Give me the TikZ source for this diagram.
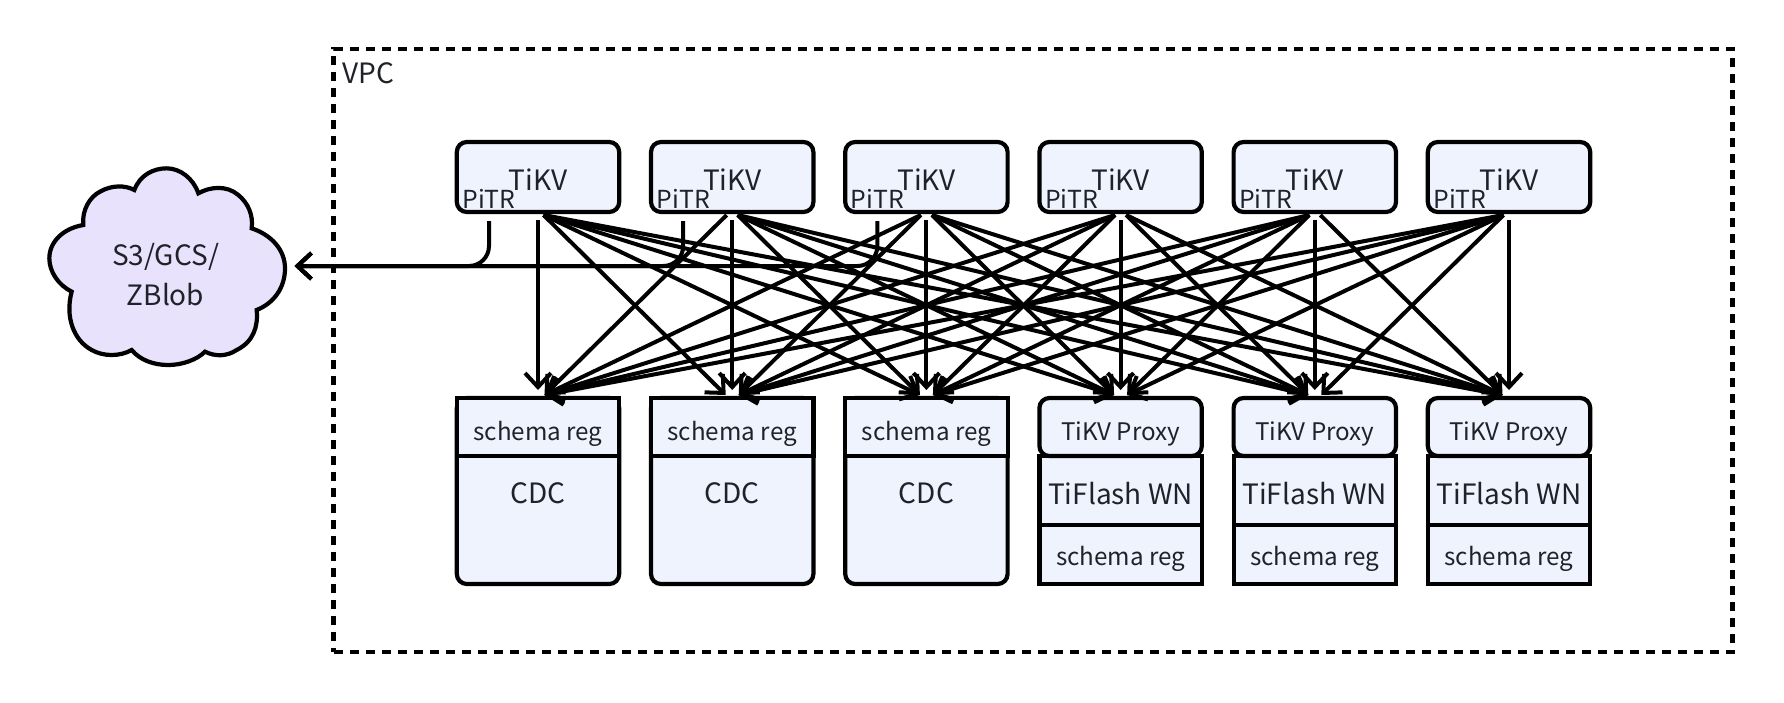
\documentclass[tikz,border=0pt]{standalone}
\usepackage{fontspec}
\setmainfont{Noto Sans CJK SC}
\usetikzlibrary{arrows.meta}

\definecolor{boxfill}{HTML}{EFF3FD}
\definecolor{cloudfill}{HTML}{E9E2FD}
\definecolor{ink}{HTML}{1F2329}

\tikzset{
  big/.style={font=\fontsize{14}{17}\selectfont},
  small/.style={font=\fontsize{12.1}{15}\selectfont},
  box/.style={draw, fill=boxfill, line width=2.1pt, minimum width=81.2pt, inner sep=0pt, outer sep=0pt, text=ink},
  arrow/.style={line width=2pt, -{Straight Barb[length=7pt,width=13pt]}},
}

\begin{document}
\begin{tikzpicture}[x=0.5pt,y=-0.5pt]
   \useasboundingbox (0,0) rectangle (1784,702);

\node[draw, line width=2.3pt, dash pattern=on 4.5pt off 3.5pt, minimum width=699.5pt, minimum height=301.5pt, inner sep=0pt] (vpc) at (1033.2,350.5) {};
\node[big, text=ink, inner sep=0pt] (vpclabel) at (368.5,73) {VPC};

% cloud outline
\begin{scope}[shift={(40,160)},x=0.16667pt,y=-0.16667pt]
\draw[fill=cloudfill, line width=2.1pt] (283,90)
  .. controls (300,45) and (340,25) .. (380,25)
  .. controls (420,25) and (460,55) .. (475,100)
  .. controls (510,80) and (560,75) .. (595,105)
  .. controls (625,130) and (640,165) .. (635,205)
  .. controls (695,225) and (735,270) .. (735,325)
  .. controls (735,385) and (700,430) .. (650,450)
  .. controls (655,500) and (640,545) .. (590,570)
  .. controls (560,590) and (525,590) .. (495,575)
  .. controls (470,600) and (425,615) .. (385,615)
  .. controls (340,615) and (300,600) .. (275,570)
  .. controls (240,590) and (190,590) .. (155,570)
  .. controls (100,540) and (75,470) .. (95,395)
  .. controls (55,375) and (28,335) .. (28,295)
  .. controls (28,245) and (70,205) .. (130,195)
  .. controls (125,150) and (150,110) .. (180,95)
  .. controls (215,75) and (255,75) .. (283,90) -- cycle;
\end{scope}
\node[text=ink, minimum width=129pt, inner sep=0pt, outer sep=0pt, align=center, font=\fontsize{14}{20}\selectfont] (cloud) at (165.5,275) {S3/GCS/\\ZBlob};

% top row
\foreach \i/\x in {1/538,2/732.2,3/926.4,4/1120.6,5/1314.8,6/1509} {
  \node[box, big, rounded corners=5pt, minimum height=35pt, text height=13.4pt, text depth=0pt] (tikv\i) at (\x,177) {TiKV};
  \node[small, font=\fontsize{12.4}{15}\selectfont, text=ink, inner sep=0pt] (pitr\i) at (\x-49,199) {PiTR};
}

% bottom row, cdc
\foreach \i/\x in {1/538,2/732.2,3/926.4} {
  \node[box, rounded corners=5pt, minimum height=93pt] (cdc\i) at (\x,491) {};
  \node[big, text=ink, inner sep=0pt] (cdctext\i) at (\x,493) {CDC};
  \node[box, small, minimum height=29pt, text height=13pt, text depth=0pt] (head\i) at (\x,427) {schema reg};
}

% bottom row, tiflash
\foreach \i/\x in {4/1120.6,5/1314.8,6/1509} {
  \node[box, big, minimum height=34.5pt, text height=14pt, text depth=0pt] (flash\i) at (\x,490.5) {TiFlash WN};
  \node[box, small, minimum height=29.5pt, text height=10.8pt, text depth=0pt] (schema\i) at (\x,554.5) {schema reg};
  \node[box, small, rounded corners=5pt, minimum height=29pt, text height=13pt, text depth=0pt] (head\i) at (\x,427) {TiKV Proxy};
}

% every tikv to every head
\foreach \i in {1,...,6} {
  \foreach \j in {1,...,6} {
    \pgfmathsetmacro\dx{2.75*sign(\j-\i)}
    \pgfmathsetmacro\ex{3.25*sign(\j-\i)}
    \pgfmathsetmacro\gap{\i==\j ? 4 : 1.5}
    \draw[arrow] ([xshift=\dx pt,yshift=-\gap pt]tikv\i.south) -- ([xshift=-\ex pt,yshift=\gap pt]head\j.north);
  }
}

% backup to the cloud
\foreach \i in {1,2,3} {
  \draw[arrow, rounded corners=10pt] ([yshift=-6pt]pitr\i.south) |- ([yshift=4.5pt]cloud.east);
}

\end{tikzpicture}
\end{document}
